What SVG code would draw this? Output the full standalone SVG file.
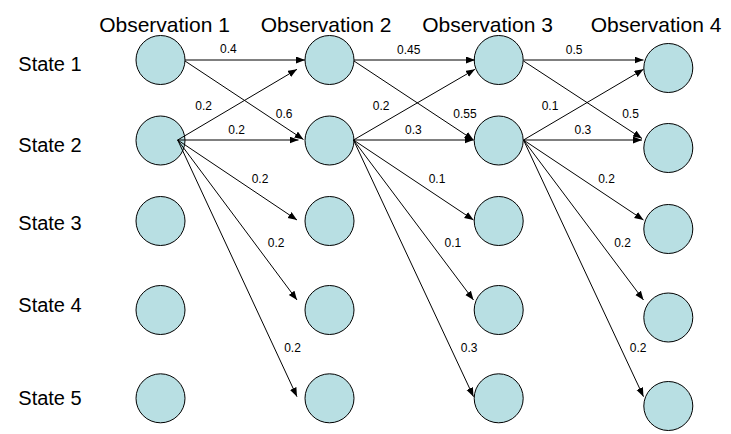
<svg xmlns="http://www.w3.org/2000/svg" width="731" height="434" viewBox="0 0 731 434">
<defs>
<style>
.node{fill:#b8dfe3;stroke:#000;stroke-width:1}
.hdr{font-family:"Liberation Sans",Arial,sans-serif;font-size:21px;fill:#000;text-anchor:middle}
.st{font-family:"Liberation Sans",Arial,sans-serif;font-size:20px;fill:#000}
.lbl{font-family:"Liberation Sans",Arial,sans-serif;font-size:12px;fill:#000;text-anchor:middle}
.edge{stroke:#000;stroke-width:1;fill:none;marker-end:url(#arr)}
</style>
<marker id="arr" markerUnits="userSpaceOnUse" markerWidth="10" markerHeight="8" refX="9" refY="3.5" orient="auto">
<path d="M0,0 L9,3.5 L0,7 z" fill="#000"/>
</marker>
</defs>
<rect width="731" height="434" fill="#fff"/>
<g id="headers">
<text class="hdr" x="164.5" y="31.5">Observation 1</text>
<text class="hdr" x="326" y="31.5">Observation 2</text>
<text class="hdr" x="487.5" y="31.5">Observation 3</text>
<text class="hdr" x="656" y="31.5">Observation 4</text>
</g>
<g id="states">
<text class="st" x="18.3" y="71">State 1</text>
<text class="st" x="18.3" y="151.7">State 2</text>
<text class="st" x="18.3" y="230">State 3</text>
<text class="st" x="18.3" y="312.3">State 4</text>
<text class="st" x="18.3" y="405">State 5</text>
</g>
<g id="n1_1"><circle class="node" cx="160.5" cy="60" r="24.5"/></g>
<g id="n1_2"><circle class="node" cx="160.5" cy="140.5" r="24.5"/></g>
<g id="n1_3"><circle class="node" cx="160.5" cy="221" r="24.5"/></g>
<g id="n1_4"><circle class="node" cx="160.5" cy="310" r="24.5"/></g>
<g id="n1_5"><circle class="node" cx="160.5" cy="398.3" r="24.5"/></g>
<g id="n2_1"><circle class="node" cx="329.5" cy="60" r="24.5"/></g>
<g id="n2_2"><circle class="node" cx="329.5" cy="140.5" r="24.5"/></g>
<g id="n2_3"><circle class="node" cx="329.5" cy="221" r="24.5"/></g>
<g id="n2_4"><circle class="node" cx="329.5" cy="310" r="24.5"/></g>
<g id="n2_5"><circle class="node" cx="329.5" cy="398.3" r="24.5"/></g>
<g id="n3_1"><circle class="node" cx="498.7" cy="60" r="24.5"/></g>
<g id="n3_2"><circle class="node" cx="498.7" cy="140.5" r="24.5"/></g>
<g id="n3_3"><circle class="node" cx="498.7" cy="221" r="24.5"/></g>
<g id="n3_4"><circle class="node" cx="498.7" cy="310" r="24.5"/></g>
<g id="n3_5"><circle class="node" cx="498.7" cy="398.3" r="24.5"/></g>
<g id="n4_1"><circle class="node" cx="668.3" cy="68" r="24.5"/></g>
<g id="n4_2"><circle class="node" cx="668.3" cy="148" r="24.5"/></g>
<g id="n4_3"><circle class="node" cx="668.3" cy="229" r="24.5"/></g>
<g id="n4_4"><circle class="node" cx="668.3" cy="317.5" r="24.5"/></g>
<g id="n4_5"><circle class="node" cx="668.3" cy="406" r="24.5"/></g>
<g id="connectors">
<line class="edge" x1="185" y1="60" x2="305" y2="60"/>
<line class="edge" x1="185" y1="61" x2="303.5" y2="139.5"/>
<line class="edge" x1="177.7" y1="140" x2="297" y2="69.3"/>
<line class="edge" x1="177.7" y1="140" x2="298.5" y2="140"/>
<line class="edge" x1="177.7" y1="140" x2="297" y2="220"/>
<line class="edge" x1="177.7" y1="140" x2="297" y2="300"/>
<line class="edge" x1="177.7" y1="140" x2="297" y2="396.7"/>
<line class="edge" x1="354" y1="60" x2="475" y2="60"/>
<line class="edge" x1="354" y1="61" x2="473.5" y2="140"/>
<line class="edge" x1="353.5" y1="140" x2="475" y2="69.3"/>
<line class="edge" x1="353.5" y1="140" x2="473.5" y2="140"/>
<line class="edge" x1="353.5" y1="140" x2="473.5" y2="220"/>
<line class="edge" x1="353.5" y1="140" x2="473.5" y2="300"/>
<line class="edge" x1="353.5" y1="140" x2="473.5" y2="396.7"/>
<line class="edge" x1="523.5" y1="60" x2="643.5" y2="60"/>
<line class="edge" x1="523.5" y1="61" x2="642" y2="138.5"/>
<line class="edge" x1="523.5" y1="140" x2="643.5" y2="69.3"/>
<line class="edge" x1="523.5" y1="140" x2="642" y2="140"/>
<line class="edge" x1="523.5" y1="140" x2="643.5" y2="220"/>
<line class="edge" x1="523.5" y1="140" x2="643.5" y2="300"/>
<line class="edge" x1="523.5" y1="140" x2="643.5" y2="396.7"/>
</g>
<g id="edge-labels">
<text class="lbl" x="228.3" y="53.3">0.4</text>
<text class="lbl" x="203.7" y="110">0.2</text>
<text class="lbl" x="284.2" y="118.3">0.6</text>
<text class="lbl" x="236.7" y="134">0.2</text>
<text class="lbl" x="260" y="183.3">0.2</text>
<text class="lbl" x="276.2" y="247.3">0.2</text>
<text class="lbl" x="292.5" y="352.3">0.2</text>
<text class="lbl" x="408.8" y="54">0.45</text>
<text class="lbl" x="381.2" y="110">0.2</text>
<text class="lbl" x="465" y="118.3">0.55</text>
<text class="lbl" x="413.3" y="134">0.3</text>
<text class="lbl" x="437" y="183.3">0.1</text>
<text class="lbl" x="452.8" y="247.3">0.1</text>
<text class="lbl" x="469.2" y="352.3">0.3</text>
<text class="lbl" x="574.2" y="54">0.5</text>
<text class="lbl" x="550" y="110">0.1</text>
<text class="lbl" x="630.5" y="118.3">0.5</text>
<text class="lbl" x="582.8" y="134">0.3</text>
<text class="lbl" x="606.5" y="183.3">0.2</text>
<text class="lbl" x="622.5" y="247.3">0.2</text>
<text class="lbl" x="638.2" y="352.3">0.2</text>
</g>
</svg>
